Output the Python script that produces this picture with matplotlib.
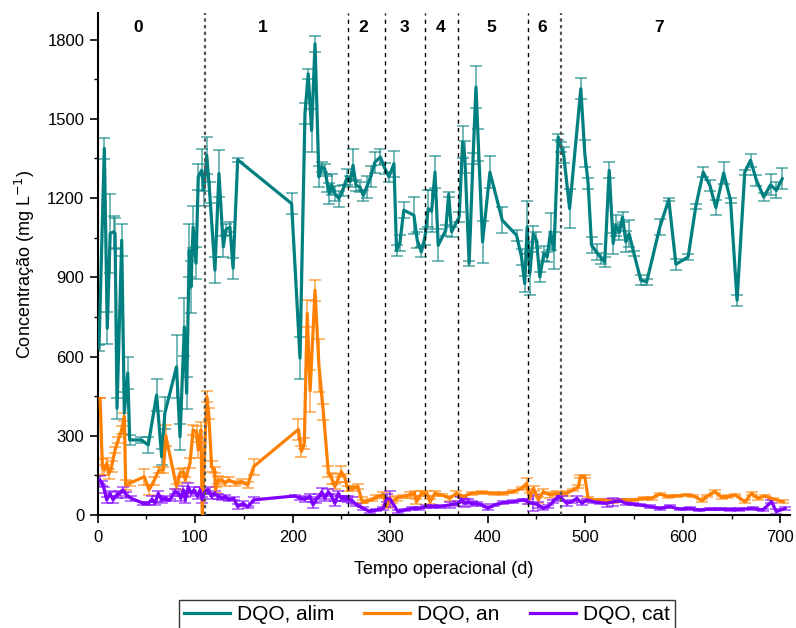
import matplotlib
matplotlib.use("Agg")
import matplotlib.pyplot as plt
from matplotlib.ticker import MultipleLocator

plt.rcParams['font.family'] = ['Liberation Sans', 'DejaVu Sans']

# Each row: (tempo em dias, DQO em mg/L, desvio padrão)
# ---- DQO do afluente (alimentação) ----
alim = [(1.5, 632, 10), (7, 1388, 40), (10, 707, 60), (13, 1066, 150), (16.7, 1072, 60),
        (18, 1066, 60), (20, 404, 40), (24.8, 1040, 60), (27.5, 386, 80), (31, 537, 60),
        (33, 284, 20), (45, 284, 10), (52, 265, 30), (60.6, 454, 60), (65.8, 220, 30),
        (69, 385, 60), (81, 561, 120), (84.6, 296, 50), (89, 712, 110), (91.4, 461, 60),
        (94, 1002, 100), (95.8, 863, 100), (98, 1090, 80), (101, 953, 60), (103.3, 1280, 50),
        (106.8, 1305, 80), (109, 1230, 60), (112, 1362, 70), (115, 1220, 40), (120.4, 927, 50),
        (124.5, 1293, 90), (129, 1015, 40), (131.5, 1080, 20), (135.8, 1090, 20), (139, 934, 40),
        (143.7, 1345, 8), (199, 1179, 40), (207.6, 594, 80), (212.7, 1520, 40), (216, 1670, 20),
        (219.5, 1456, 80), (223, 1784, 30), (227, 1280, 40), (229.8, 1317, 20), (233, 1310, 20),
        (235.6, 1254, 30), (237.6, 1217, 40), (240, 1250, 40), (243.4, 1217, 30),
        (247.5, 1198, 30), (251.3, 1229, 20), (256, 1280, 30), (259, 1262, 20), (262, 1324, 60),
        (265, 1248, 20), (269, 1242, 20), (272.5, 1210, 20), (276, 1242, 40), (280, 1280, 40),
        (284.4, 1336, 40), (290, 1355, 30), (294.7, 1311, 20), (298.8, 1280, 20),
        (303.9, 1330, 50), (306.6, 1002, 20), (310, 1030, 30), (314, 1154, 30), (324.4, 1135, 70),
        (327.8, 1040, 30), (332, 996, 20), (335.7, 1053, 30), (339, 1160, 70), (342.5, 1150, 80),
        (346, 1298, 60), (349.3, 1021, 60), (357, 1078, 20), (360, 1214, 10), (363, 1072, 20),
        (370.8, 1128, 20), (374.3, 1412, 60), (376.6, 1355, 60), (381, 952, 10), (385, 1350, 20),
        (388, 1620, 80), (390.5, 1400, 60), (394.8, 1034, 80), (402.3, 1298, 60), (415, 1116, 50),
        (429.6, 1059, 20), (434.7, 977, 30), (438, 876, 30), (440.5, 1090, 100), (443.3, 914, 80),
        (446.7, 1065, 30), (450, 1040, 30), (453.5, 901, 20), (457.6, 990, 30), (461, 977, 20),
        (464.5, 1072, 70), (468, 1002, 70), (472.3, 1431, 10), (475.7, 1393, 20), (478, 1362, 30),
        (484, 1160, 75), (495.5, 1614, 40), (499.6, 1368, 50), (503, 1255, 20), (506.5, 1021, 30),
        (511.6, 996, 30), (516.7, 971, 20), (520, 958, 20), (524.6, 1305, 30), (528.7, 1028, 40),
        (531.4, 1097, 40), (535, 1070, 30), (538.3, 1128, 20), (541.7, 1034, 40), (545, 1065, 50),
        (550, 990, 10), (557, 889, 20), (563, 882, 10), (576.5, 1090, 30), (585.7, 1194, 5),
        (593, 949, 20), (605.5, 977, 10), (613.4, 1169, 10), (621, 1298, 20), (627.8, 1248, 20),
        (634, 1164, 30), (642, 1295, 40), (649, 1191, 10), (655.7, 813, 20), (663.6, 1298, 10),
        (669.5, 1343, 25), (675.6, 1267, 20), (683, 1204, 15), (690, 1250, 40), (696, 1229, 30),
        (702, 1273, 40)]

# ---- DQO do anólito ----
an = [(2.6, 441, 0), (5, 183, 30), (7, 170, 20), (9.4, 196, 20), (11.7, 155, 20), (14.4, 183, 20),
      (18, 246, 10), (21.3, 284, 10), (24.7, 322, 15), (27.5, 372, 15), (28.9, 113, 20),
      (33, 120, 10), (48, 145, 30), (52.8, 95, 20), (58, 130, 15), (63, 170, 10), (67.6, 170, 10),
      (70, 300, 40), (81, 107, 10), (84.6, 158, 15), (88, 164, 15), (90, 133, 10), (94.8, 196, 20),
      (98, 322, 20), (101.5, 315, 20), (103.3, 246, 30), (106, 322, 30), (107.4, 0, 0),
      (112, 448, 20), (114, 385, 20), (117, 183, 20), (120, 170, 10), (121, 95, 10),
      (124, 133, 15), (127.5, 133, 10), (131, 120, 10), (134.4, 133, 10), (141.3, 120, 10),
      (148, 126, 10), (154, 113, 10), (160, 183, 30), (206, 324, 40), (209, 240, 20),
      (212, 271, 20), (215, 763, 50), (218, 470, 80), (223, 851, 40), (227, 565, 100),
      (231.5, 391, 30), (236.6, 164, 20), (240, 139, 20), (243.4, 107, 10), (247, 139, 15),
      (250, 164, 20), (253.7, 139, 15), (256.4, 101, 10), (260.5, 101, 10), (267, 107, 10),
      (270.8, 57, 10), (272.5, 50, 5), (281, 57, 5), (286, 70, 5), (293, 76, 10), (296.4, 32, 5),
      (299, 63, 5), (302, 50, 5), (306.6, 63, 10), (313, 70, 5), (320, 76, 10), (325, 82, 10),
      (327, 50, 10), (332, 82, 10), (338, 80, 10), (341, 50, 10), (346, 82, 10), (353, 76, 5),
      (361, 63, 10), (368, 82, 10), (375, 70, 5), (383.5, 82, 5), (394, 85, 5), (406, 82, 5),
      (416, 82, 5), (426, 88, 5), (434.7, 101, 5), (440, 120, 20), (443, 63, 20), (447, 101, 10),
      (452, 57, 10), (457, 88, 10), (464, 76, 10), (471, 82, 10), (481, 82, 10), (488, 95, 5),
      (493, 107, 5), (495, 145, 5), (499.6, 145, 5), (503, 63, 5), (508, 57, 5), (519, 57, 5),
      (529, 50, 5), (539, 57, 5), (549, 57, 5), (560, 63, 5), (568, 63, 5), (576.5, 79, 5),
      (585, 70, 5), (594, 72, 5), (604, 76, 5), (611, 72, 5), (620, 54, 5), (625, 72, 5),
      (633, 88, 5), (640, 67, 5), (646.5, 70, 5), (653.5, 76, 5), (664, 50, 5), (670.5, 82, 5),
      (677, 63, 5), (684, 72, 5), (693, 60, 5), (703, 50, 5)]

# ---- DQO do católito ----
cat = [(2.6, 132, 15), (5, 120, 10), (7, 95, 10), (9.4, 57, 10), (12.8, 82, 10), (16, 57, 10),
       (19.5, 76, 10), (23, 82, 10), (26, 95, 10), (29.6, 76, 10), (34.7, 63, 10), (47, 44, 5),
       (52, 44, 5), (56, 60, 10), (59, 44, 5), (62.3, 82, 10), (65.8, 57, 10), (69, 63, 10),
       (74, 57, 5), (79.4, 88, 10), (83, 82, 10), (85.4, 63, 10), (88, 95, 15), (90, 57, 10),
       (93, 107, 15), (96, 82, 10), (99, 95, 10), (102.6, 70, 10), (105, 95, 10), (107.4, 57, 10),
       (110, 88, 10), (113.5, 95, 10), (117, 70, 10), (120, 82, 10), (124, 70, 10),
       (127.5, 63, 5), (131, 70, 5), (134.4, 57, 5), (139.6, 63, 5), (143.7, 32, 10),
       (149.5, 44, 10), (154, 30, 5), (160, 57, 10), (202.4, 72, 5), (207.6, 63, 5),
       (212.7, 60, 10), (218, 70, 10), (221, 38, 10), (224, 57, 10), (227, 70, 10), (230, 88, 15),
       (233, 63, 10), (236.6, 88, 10), (240, 70, 10), (243.4, 44, 10), (247, 82, 10),
       (250, 63, 10), (253.7, 63, 10), (257, 60, 10), (260.5, 57, 10), (265.5, 38, 5),
       (272.5, 25, 5), (279, 13, 5), (286, 19, 5), (293, 25, 5), (296.4, 63, 15), (300, 60, 30),
       (308, 13, 5), (315, 19, 5), (322, 25, 5), (330, 25, 5), (337, 32, 5), (344, 32, 5),
       (351, 32, 5), (361, 38, 10), (370, 44, 10), (373, 57, 10), (377, 44, 15), (380, 50, 10),
       (383.5, 44, 10), (388.6, 44, 5), (394, 38, 5), (400, 25, 5), (407, 38, 5), (416, 47, 5),
       (426, 50, 5), (436, 57, 5), (441.5, 50, 10), (446.5, 44, 30), (452, 38, 10), (457, 25, 5),
       (462, 32, 5), (467, 50, 5), (472.4, 70, 10), (476, 63, 10), (481, 44, 10), (486, 50, 5),
       (491.5, 63, 10), (496.7, 44, 5), (501.6, 57, 5), (508.5, 50, 5), (515, 47, 5),
       (522, 44, 15), (529, 50, 15), (535.5, 54, 5), (542, 44, 5), (549, 41, 5), (556, 38, 5),
       (566, 32, 5), (576.5, 25, 5), (586.6, 32, 5), (597, 22, 5), (607, 25, 5), (617, 19, 5),
       (627.6, 22, 5), (638, 22, 5), (648, 21, 5), (658, 21, 5), (671.7, 25, 5), (682, 19, 5),
       (691, 50, 5), (696, 13, 10), (705, 25, 5)]

# ---- fases operacionais ----
fase_inicio = [110, 257, 295, 336, 370, 441, 475]
fase_nomes = ['0', '1', '2', '3', '4', '5', '6', '7']
fase_centros = [42, 169, 272, 315, 352, 404, 456, 576]

cor_alim = '#008080'
cor_an = '#ff8000'
cor_cat = '#8000ff'

fig = plt.figure(figsize=(7.96, 6.28), dpi=100)
ax = fig.add_axes([0.1225, 0.180, 0.870, 0.799])

series = [(alim, cor_alim, 'DQO, alim'), (an, cor_an, 'DQO, an'), (cat, cor_cat, 'DQO, cat')]
for tabela, cor, rot in series:
    dia, dqo, dp = (list(c) for c in zip(*tabela))
    ax.errorbar(dia, dqo, yerr=dp, fmt='none', ecolor=cor, alpha=0.55,
                elinewidth=1.4, capsize=4, capthick=1.4, zorder=2)
    ax.plot(dia, dqo, color=cor, lw=2.3, label=rot, zorder=3)

for i, x in enumerate(fase_inicio):
    if i in (0, len(fase_inicio) - 1):
        ax.axvline(x, color='#555555', lw=1.6, ls=(0, (1.5, 1.5)), zorder=4)
    else:
        ax.axvline(x, color='black', lw=1.0, ls=(0, (3, 3)), zorder=4)

for nome, xc in zip(fase_nomes, fase_centros):
    ax.text(xc, 1845, nome, ha='center', va='center', fontsize=12.5, fontweight='bold')

ax.set_xlim(0, 710)
ax.set_ylim(0, 1900)
ax.xaxis.set_major_locator(MultipleLocator(100))
ax.xaxis.set_minor_locator(MultipleLocator(50))
ax.set_yticks([0, 300, 600, 900, 1200, 1500, 1800])
ax.yaxis.set_minor_locator(MultipleLocator(150))
ax.tick_params(which='major', direction='out', length=6, width=1.2, labelsize=12)
ax.tick_params(which='minor', direction='out', length=3, width=1.0)
ax.tick_params(axis='x', which='major', pad=5)
for s in ['top', 'right']:
    ax.spines[s].set_visible(False)
for s in ['left', 'bottom']:
    ax.spines[s].set_linewidth(1.5)

ax.set_xlabel('Tempo operacional (d)', fontsize=13, labelpad=11)
ax.set_ylabel('Concentração (mg L$^{-1}$)', fontsize=13, labelpad=7)

leg = fig.legend(loc='upper center', bbox_to_anchor=(0.536, 0.045), ncol=3, fontsize=15,
                 frameon=True, fancybox=False, edgecolor='black', handlelength=2.2,
                 handletextpad=0.34, columnspacing=1.45, borderpad=0.25, borderaxespad=0)
leg.get_frame().set_linewidth(1.0)
for h in leg.get_lines():
    h.set_linewidth(2.3)

fig.savefig('out.png', dpi=100)
